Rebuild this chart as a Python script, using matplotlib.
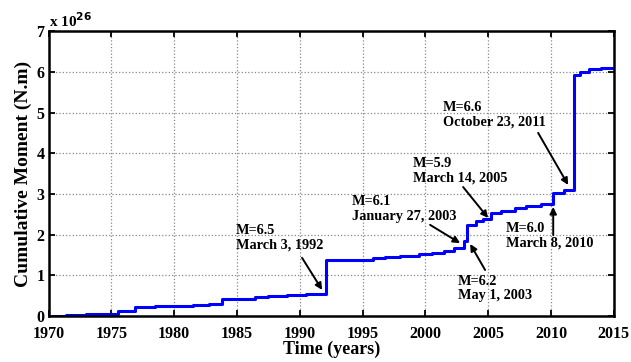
import matplotlib
matplotlib.use("Agg")
import matplotlib.pyplot as plt

# Cumulative seismic moment (units of 1e26 N.m), step changes at event times
years = [1970.0, 1971.4, 1973.0, 1974.5, 1975.5, 1976.9, 1978.5, 1980.0, 1981.5,
         1982.8, 1983.8, 1984.8, 1986.4, 1987.5, 1989.0, 1990.5, 1992.1, 1995.8,
         1996.8, 1998.0, 1999.5, 2000.5, 2001.5, 2002.3, 2003.07, 2003.33,
         2004.0, 2004.6, 2005.2, 2006.0, 2007.1, 2008.0, 2009.2, 2010.18,
         2011.0, 2011.81, 2012.3, 2013.0, 2014.0, 2015.0]
moment = [0.01, 0.03, 0.05, 0.06, 0.13, 0.22, 0.24, 0.25, 0.27,
          0.29, 0.41, 0.43, 0.47, 0.49, 0.51, 0.53, 1.38, 1.42,
          1.45, 1.48, 1.52, 1.55, 1.60, 1.68, 1.85, 2.24,
          2.33, 2.38, 2.53, 2.57, 2.65, 2.70, 2.76, 3.03,
          3.10, 5.93, 6.00, 6.06, 6.09, 6.10]

x_ticks = [1970, 1975, 1980, 1985, 1990, 1995, 2000, 2005, 2010, 2015]
y_ticks = [0, 1, 2, 3, 4, 5, 6, 7]

# Labelled events: text, text anchor (year, value), arrow tail, arrow head
event_labels = ["M=6.5\nMarch 3, 1992",
                "M=6.1\nJanuary 27, 2003",
                "M=6.2\nMay 1, 2003",
                "M=5.9\nMarch 14, 2005",
                "M=6.6\nOctober 23, 2011",
                "M=6.0\nMarch 8, 2010"]
label_pos = [(1984.93, 1.92), (1994.16, 2.63), (2002.6, 0.68),
             (1999.02, 3.57), (2001.41, 4.95), (2006.42, 1.98)]
arrow_tail = [(1990.18, 1.43), (2000.37, 2.24), (2004.75, 1.13),
              (2003.0, 3.17), (2008.97, 4.50), (2010.17, 1.99)]
arrow_head = [(1991.78, 0.64), (2002.76, 1.79), (2003.56, 1.77),
              (2004.99, 2.41), (2011.36, 3.22), (2010.17, 2.68)]

plt.rcParams['font.family'] = ['Liberation Serif', 'DejaVu Serif']
plt.rcParams['font.weight'] = 'bold'

fig = plt.figure(figsize=(6.31, 3.62), dpi=100)
ax = fig.add_axes([0.0769, 0.127, 0.896, 0.787])

ax.plot(years, moment, drawstyle='steps-post', color='#0000ff', lw=2.2)

ax.set_xlim(1970, 2015)
ax.set_ylim(0, 7)
ax.set_xticks(x_ticks)
ax.set_yticks(y_ticks)
ax.set_xticklabels([str(v) for v in x_ticks], fontsize=11.5, fontweight='bold')
ax.set_yticklabels([str(v) for v in y_ticks], fontsize=11.5, fontweight='bold')
ax.tick_params(direction='in', length=4, width=1.3, top=True, right=True)
ax.tick_params(axis='x', pad=7)
ax.tick_params(axis='y', pad=3)

ax.grid(True, color='#888888', linestyle=':', linewidth=0.9)
for s in ax.spines.values():
    s.set_linewidth(1.8)

ax.set_xlabel("Time (years)", fontsize=13, fontweight='bold', labelpad=-1)
ax.set_ylabel("Cumulative Moment (N.m)", fontsize=14, fontweight='bold', labelpad=3)

ax.text(0.0, 1.005, r"x 10$^{\mathbf{26}}$", transform=ax.transAxes,
        fontsize=11, fontweight='bold', ha='left', va='bottom')

for lab, pos, tail, head in zip(event_labels, label_pos, arrow_tail, arrow_head):
    ax.text(pos[0], pos[1], lab, fontsize=10.3, fontweight='bold',
            ha='left', va='center', linespacing=1.15)
    ax.annotate('', xy=head, xytext=tail,
                arrowprops=dict(arrowstyle='-|>', color='black', lw=1.4,
                                mutation_scale=10, shrinkA=0, shrinkB=0))

fig.savefig("out.png", dpi=100)
